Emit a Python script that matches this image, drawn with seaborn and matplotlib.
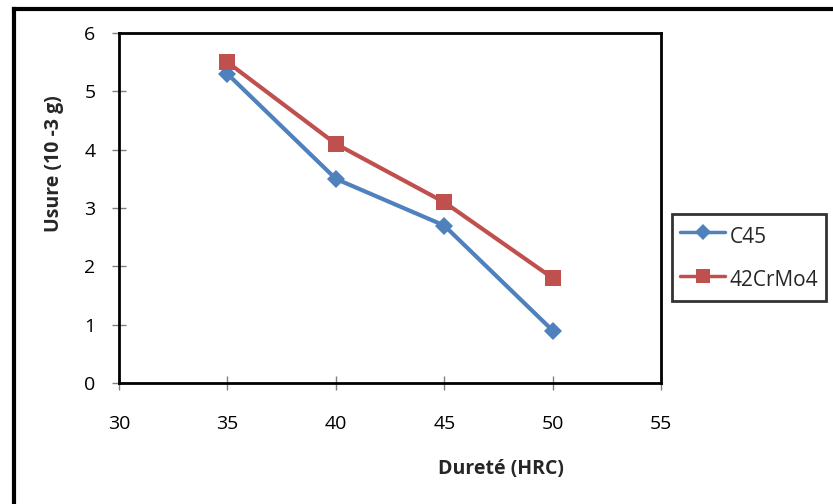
import matplotlib
matplotlib.use("Agg")
import matplotlib.pyplot as plt
from matplotlib.lines import Line2D
import pandas as pd
import seaborn as sns

# Hardness (HRC) vs wear for two steels
durete = [35, 40, 45, 50]
usure_c45 = [5.3, 3.5, 2.7, 0.9]
usure_42crmo4 = [5.5, 4.1, 3.1, 1.8]
series_names = ["C45", "42CrMo4"]
x_ticks = [30, 35, 40, 45, 50, 55]
y_ticks = [0, 1, 2, 3, 4, 5, 6]

df = pd.DataFrame({
    "Dureté": durete * 2,
    "Usure": usure_c45 + usure_42crmo4,
    "Acier": [series_names[0]] * len(durete) + [series_names[1]] * len(durete),
})

sns.set_theme(style="white")
plt.rcParams["font.family"] = ["Open Sans", "DejaVu Sans"]

colors = {"C45": "#4F81BD", "42CrMo4": "#C0504D"}
markers = {"C45": "D", "42CrMo4": "s"}

fig = plt.figure(figsize=(8.33, 5.04), dpi=100)
ax = fig.add_axes([0.1429, 0.240, 0.6507, 0.6944])

sns.lineplot(data=df, x="Dureté", y="Usure", hue="Acier", style="Acier",
             hue_order=series_names, style_order=series_names,
             palette=colors, markers=markers, dashes=False,
             linewidth=3, markeredgewidth=0, ax=ax, legend=False)
for line, name in zip(ax.get_lines(), series_names):
    line.set_markersize(9 if name == "C45" else 12)

ax.set_xlim(30, 55)
ax.set_ylim(0, 6)
ax.set_xticks(x_ticks)
ax.set_yticks(y_ticks)
ax.set_xlabel("")
ax.set_ylabel("")
for sp in ax.spines.values():
    sp.set_visible(True)
    sp.set_color("black")
    sp.set_linewidth(2)
ax.tick_params(axis="both", which="major", direction="inout", length=10,
               width=1, color="#808080", labelsize=14, labelcolor="black",
               bottom=True, left=True)
ax.tick_params(axis="x", pad=18)
ax.tick_params(axis="y", pad=12)
ax.grid(False)

# Axis titles
fig.text(0.6015, 0.070, "Dureté (HRC)", ha="center", va="center",
         fontsize=14, fontweight="bold")
fig.text(0.065, 0.676, "Usure (10 -3 g)", ha="center", va="center",
         rotation=90, fontsize=14, fontweight="bold")

# Legend
handles = [
    Line2D([], [], color=colors["C45"], lw=2.5, marker="D", markersize=8,
           markeredgewidth=0),
    Line2D([], [], color=colors["42CrMo4"], lw=2.5, marker="s", markersize=10,
           markeredgewidth=0),
]
leg = fig.legend(handles, series_names, loc="upper left",
                 bbox_to_anchor=(0.8067, 0.5754),
                 frameon=True, fancybox=False, fontsize=15,
                 handlelength=2.15, handleheight=1.6, handletextpad=0.2,
                 labelspacing=0.8, borderpad=0.4, borderaxespad=0,
                 numpoints=1)
leg.get_frame().set_edgecolor("black")
leg.get_frame().set_linewidth(2)

# Outer frame (left and top edges)
fig.add_artist(Line2D([0.0163, 0.0163], [0.0, 0.983], color="black", lw=3,
                      transform=fig.transFigure, solid_capstyle="projecting"))
fig.add_artist(Line2D([0.0163, 1.0], [0.983, 0.983], color="black", lw=3,
                      transform=fig.transFigure, solid_capstyle="projecting"))

fig.savefig("out.png", dpi=100, facecolor="white")
